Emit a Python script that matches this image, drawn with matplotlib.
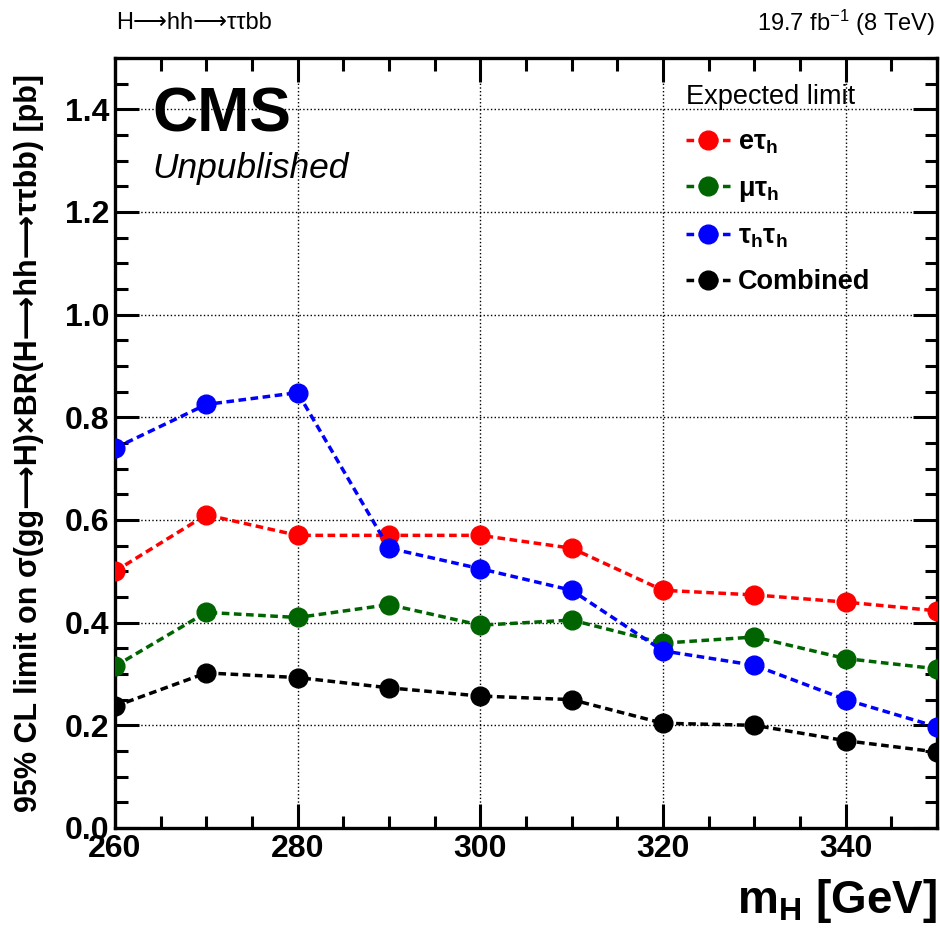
"""
Expected 95% CL limits on sigma(gg->H) x BR(H->hh->tautaubb), per channel.
"""
import matplotlib
matplotlib.use('Agg')
import matplotlib.pyplot as plt
from matplotlib.ticker import MultipleLocator, FormatStrFormatter

plt.rcParams['font.family'] = ['Liberation Sans', 'DejaVu Sans']
plt.rcParams['mathtext.fontset'] = 'custom'
plt.rcParams['mathtext.rm'] = 'Liberation Sans'
plt.rcParams['mathtext.bf'] = 'Liberation Sans:bold'
plt.rcParams['mathtext.it'] = 'Liberation Sans:italic'
plt.rcParams['mathtext.default'] = 'regular'

# Higgs mass points (GeV)
mass = [260, 270, 280, 290, 300, 310, 320, 330, 340, 350]

# expected limits (pb)
lim_etau = [0.50, 0.61, 0.57, 0.57, 0.57, 0.545, 0.463, 0.454, 0.44, 0.423]
lim_mutau = [0.315, 0.42, 0.41, 0.435, 0.395, 0.405, 0.36, 0.372, 0.33, 0.31]
lim_tautau = [0.74, 0.825, 0.848, 0.545, 0.505, 0.463, 0.345, 0.317, 0.25, 0.197]
lim_comb = [0.237, 0.302, 0.293, 0.273, 0.257, 0.25, 0.204, 0.20, 0.17, 0.148]

channels = [
    (lim_etau, '#ff0000', r'$\mathbf{e}\tau_{\mathbf{h}}$'),
    (lim_mutau, '#006400', r'$\mu\tau_{\mathbf{h}}$'),
    (lim_tautau, '#0000ff', r'$\tau_{\mathbf{h}}\tau_{\mathbf{h}}$'),
    (lim_comb, '#000000', 'Combined'),
]

ARROW = '\u27f6'  # long arrow, falls back to DejaVu Sans

fig = plt.figure(figsize=(9.4, 9.47), dpi=100)
ax = fig.add_axes([0.1223, 0.1257, 0.8745, 0.8131])

for vals, col, lab in channels:
    ax.plot(mass, vals, color=col, ls=(0, (2.2, 1.3)), lw=2.5,
            marker='o', ms=13.5, label=lab, zorder=3)

ax.set_xlim(260, 350)
ax.set_ylim(0, 1.5)
ax.xaxis.set_major_locator(MultipleLocator(20))
ax.xaxis.set_minor_locator(MultipleLocator(5))
ax.yaxis.set_major_locator(MultipleLocator(0.2))
ax.yaxis.set_minor_locator(MultipleLocator(0.05))
ax.yaxis.set_major_formatter(FormatStrFormatter('%.1f'))

ax.tick_params(which='both', direction='in', top=True, right=True, width=2.2)
ax.tick_params(which='major', length=17, labelsize=23, pad=4)
ax.tick_params(which='minor', length=9)
for lbl in ax.get_xticklabels() + ax.get_yticklabels():
    lbl.set_fontweight('bold')
for sp in ax.spines.values():
    sp.set_linewidth(2.4)

ax.grid(True, which='major', ls=':', color='black', lw=1.0)

ax.set_ylabel(f'95% CL limit on σ(gg{ARROW}H)×BR(H{ARROW}hh{ARROW}ττbb) [pb]',
              fontsize=22, fontweight='bold')
ax.yaxis.set_label_coords(-0.086, 0.5)
ax.set_xlabel(r'$\mathbf{m_{H}}$ [GeV]', fontsize=33, fontweight='bold')
ax.xaxis.set_label_coords(1.0, -0.064)
ax.xaxis.label.set_horizontalalignment('right')

ax.text(0.046, 0.905, 'CMS', transform=ax.transAxes, fontsize=45,
        fontweight='bold', va='baseline', ha='left')
ax.text(0.046, 0.844, 'Unpublished', transform=ax.transAxes, fontsize=25.5,
        style='italic', va='baseline', ha='left')

fig.text(0.124, 0.976, f'H{ARROW}hh{ARROW}ττbb', fontsize=17,
         va='center', ha='left')
fig.text(0.995, 0.976, r'19.7 fb$^{-1}$ (8 TeV)', fontsize=17,
         va='center', ha='right')

leg = ax.legend(loc='upper left', bbox_to_anchor=(0.695, 0.966), frameon=False,
                title='Expected limit', title_fontsize=19.5,
                prop={'size': 19.5, 'weight': 'bold'}, handlelength=1.6,
                handletextpad=0.3, labelspacing=0.72, alignment='left',
                borderpad=0, borderaxespad=0)

fig.savefig('out.png', dpi=100)
